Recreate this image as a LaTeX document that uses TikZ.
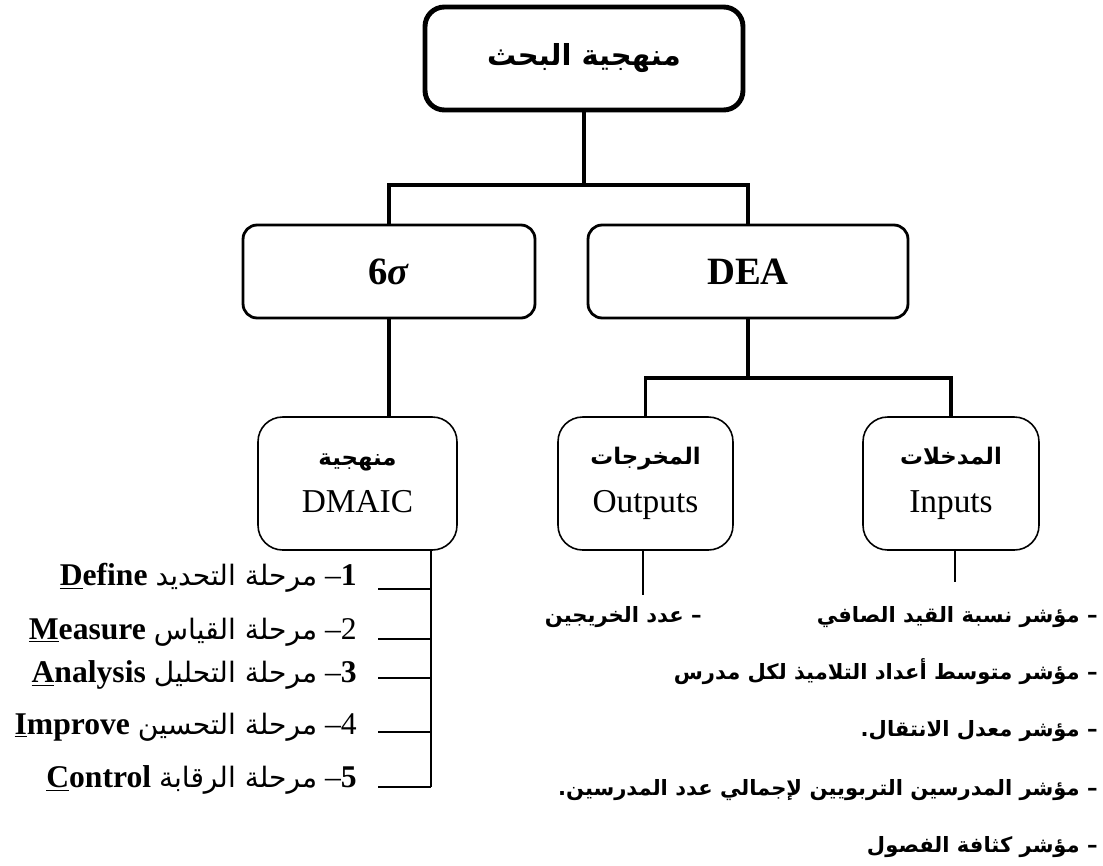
\documentclass[tikz,border=0pt]{standalone}
\usepackage{fontspec}
\setmainfont{Liberation Serif}
\newfontfamily\arabicfont[Script=Arabic]{DejaVu Sans}
\TeXXeTstate=1
\usetikzlibrary{positioning}

\begin{document}
\begin{tikzpicture}[x=0.02cm,y=-0.02cm,
topbox/.style={draw,line width=2.8pt,rounded corners=11pt,minimum width=6.36cm,minimum height=2.06cm},
midbox/.style={draw,line width=1.6pt,rounded corners=8pt,minimum width=5.84cm,minimum height=1.86cm},
smallbox/.style={draw,line width=0.9pt,rounded corners=14pt,minimum width=3.5cm,minimum height=2.66cm,align=center,font=\fontsize{19}{23}\selectfont},
thickline/.style={line width=2.8pt},
midline/.style={line width=1.8pt},
thinline/.style={line width=0.8pt},
phase/.style={anchor=east,inner sep=0pt,font=\fontsize{18}{20}\selectfont},
indic/.style={anchor=east,inner sep=0pt,font=\arabicfont\bfseries\fontsize{12}{15}\selectfont}]
\useasboundingbox (0,0) rectangle (1103,866);

\node (top) [topbox] at (584,58.5) {\arabicfont\bfseries\fontsize{16.5}{20}\selectfont\beginR منهجية البحث\endR};
\node (sig) [midbox] at (389,271.5) {\fontsize{22}{26}\selectfont\textbf{6\textit{σ}}};
\node (dea) [midbox,minimum width=6.4cm] at (748,271.5) {\fontsize{22}{26}\selectfont\textbf{DEA}};

\node (dmaic) [smallbox,minimum width=3.98cm] at (357.5,483.5) {{\arabicfont\bfseries\fontsize{13}{16}\selectfont\beginR منهجية\endR}\\[4pt] DMAIC};
\node (outp) [smallbox] at (645.5,483.5) {{\arabicfont\bfseries\fontsize{13}{16}\selectfont\beginR المخرجات\endR}\\[4pt] Outputs};
\node (inp) [smallbox,minimum width=3.52cm] at (951,483.5) {{\arabicfont\bfseries\fontsize{13}{16}\selectfont\beginR المدخلات\endR}\\[4pt] Inputs};

\coordinate (jtop) at (584,185);
\draw [thickline] (top.south) -- (jtop);
\draw [thickline] (sig.north) |- (jtop) -| (dea.north);
\draw [midline] (sig.south) -- (sig.south |- dmaic.north);
\coordinate (jdea) at (748,378);
\draw [midline] (dea.south) -- (jdea);
\draw [midline] (outp.north) |- (jdea) -| (inp.north);

% DMAIC phases
\node (p1) [phase] at (357,578) {\beginR\beginL\textbf{1}\endL– {\arabicfont\fontsize{16}{18}\selectfont مرحلة التحديد} \beginL\textbf{\underline{D}efine}\endL\endR};
\node (p2) [phase] at (357,632) {\beginR\beginL 2\endL– {\arabicfont\fontsize{16}{18}\selectfont مرحلة القياس} \beginL\textbf{\underline{M}easure}\endL\endR};
\node (p3) [phase] at (357,675) {\beginR\beginL\textbf{3}\endL– {\arabicfont\fontsize{16}{18}\selectfont مرحلة التحليل} \beginL\textbf{\underline{A}nalysis}\endL\endR};
\node (p4) [phase] at (357,727) {\beginR\beginL 4\endL– {\arabicfont\fontsize{16}{18}\selectfont مرحلة التحسين} \beginL\textbf{\underline{I}mprove}\endL\endR};
\node (p5) [phase] at (357,780) {\beginR\beginL\textbf{5}\endL– {\arabicfont\fontsize{16}{18}\selectfont مرحلة الرقابة} \beginL\textbf{\underline{C}ontrol}\endL\endR};
\foreach \i/\ty in {1/589,2/639,3/678,4/732,5/787}{
  \coordinate (t\i) at (431,\ty);
  \draw [thinline] (t\i) -- ++(-53,0);
}
\draw [thinline] (dmaic.south -| t1) -- (t5);

% outputs and inputs
\coordinate (oend) at (643,595);
\draw [thinline] (outp.south -| oend) -- (oend);
\node (o1) [indic] at (702,617) {\beginR – عدد الخريجين\endR};
\coordinate (iend) at (955,582);
\draw [thinline] (inp.south -| iend) -- (iend);
\node (i1) [indic] at (1098,617) {\beginR – مؤشر نسبة القيد الصافي\endR};
\node (i2) [indic] at (1098,672) {\beginR – مؤشر متوسط أعداد التلاميذ لكل مدرس\endR};
\node (i3) [indic] at (1098,731) {\beginR – مؤشر معدل الانتقال.\endR};
\node (i4) [indic] at (1098,790) {\beginR – مؤشر المدرسين التربويين لإجمالي عدد المدرسين.\endR};
\node (i5) [indic] at (1098,847) {\beginR – مؤشر كثافة الفصول\endR};
\end{tikzpicture}
\end{document}
